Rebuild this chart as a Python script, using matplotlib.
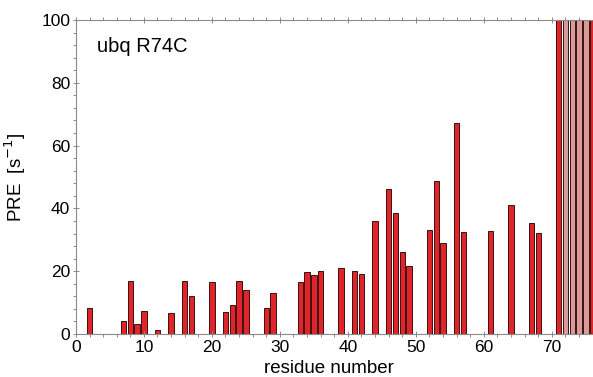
import matplotlib
matplotlib.use("Agg")
import matplotlib.pyplot as plt
from matplotlib.ticker import MultipleLocator

plt.rcParams['font.family'] = ['Liberation Sans', 'DejaVu Sans']

# PRE rates per residue (residues 71-76 run off the top of the scale)
residues = [2, 7, 8, 9, 10, 12, 14, 16, 17, 20, 22, 23, 24, 25, 28, 29,
            33, 34, 35, 36, 39, 41, 42, 44, 46, 47, 48, 49, 52, 53, 54,
            56, 57, 61, 64, 67, 68, 71, 72, 73, 74, 75, 76]
pre = [8.2, 4.1, 16.8, 3.2, 7.4, 1.3, 6.8, 16.8, 12.2, 16.5, 7.1, 9.2, 16.8,
       14.0, 8.2, 13.0, 16.5, 19.6, 18.8, 20.1, 20.9, 20.2, 19.0, 36.1,
       46.2, 38.4, 26.2, 21.6, 33.0, 48.7, 29.0, 67.3, 32.4, 32.8, 41.2,
       35.3, 32.2, 100, 100, 100, 100, 100, 100]
faded = [72, 73, 74, 75]

colors = ['#d99a9a' if r in faded else '#e0242a' for r in residues]

fig = plt.figure(figsize=(5.93, 3.77), dpi=100)
ax = fig.add_axes([0.128, 0.114, 0.872, 0.833])

ax.bar(residues, pre, width=0.8, color=colors, edgecolor='#3a1010', linewidth=0.7)

ax.set_xlim(0, 76.05)
ax.set_ylim(0, 100)
ax.xaxis.set_major_locator(MultipleLocator(10))
ax.xaxis.set_minor_locator(MultipleLocator(2))
ax.yaxis.set_major_locator(MultipleLocator(20))
ax.yaxis.set_minor_locator(MultipleLocator(4))

for side in ['left', 'bottom', 'top']:
    ax.spines[side].set_color('#8a8a8a')
    ax.spines[side].set_linewidth(0.8)
ax.spines['right'].set_visible(False)

ax.tick_params(which='both', color='#8a8a8a', labelsize=12.5, top=True, width=0.7)
ax.tick_params(which='major', length=4, pad=2)
ax.tick_params(which='minor', length=2.5)
ax.tick_params(axis='x', direction='inout')
ax.tick_params(axis='y', direction='inout')

ax.set_xlabel('residue number', fontsize=13.5)
ax.set_ylabel('PRE  [s$^{-1}$]', fontsize=13.5)
ax.xaxis.set_label_coords(0.49, -0.082)
ax.yaxis.set_label_coords(-0.092, 0.5)

ax.text(0.04, 0.915, 'ubq R74C', transform=ax.transAxes, fontsize=14.5,
        va='center', ha='left')

fig.savefig('out.png', dpi=100)
